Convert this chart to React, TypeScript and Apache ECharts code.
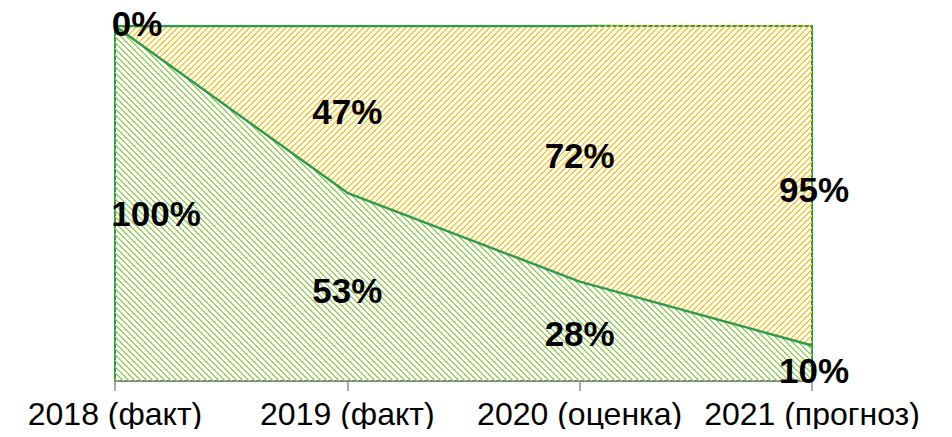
import React, { useEffect, useRef } from "react";
import * as echarts from "echarts";

const categories = ["2018 (факт)", "2019 (факт)", "2020 (оценка)", "2021 (прогноз)"];
const greenShare = [100, 53, 28, 10];
const orangeShare = [0, 47, 72, 95];

const greenLabelOffsets = [[41, 10], [0, 4], [0, 2], [2, 7]];
const orangeLabelOffsets = [[22, -3], [0, 2], [0, 2], [2, 13]];

function makePattern(color: string, light: string, dir: "up" | "down"): string {
  const c = document.createElement("canvas");
  const s = 6;
  c.width = s;
  c.height = s;
  const ctx = c.getContext("2d")!;
  for (let x = 0; x < s; x++) {
    for (let y = 0; y < s; y++) {
      const k = dir === "up" ? (x + y) % s : (((x - y) % s) + s) % s;
      if (k === 0) {
        ctx.fillStyle = color;
        ctx.fillRect(x, y, 1, 1);
      } else if (k === 1) {
        ctx.fillStyle = light;
        ctx.fillRect(x, y, 1, 1);
      }
    }
  }
  return c.toDataURL();
}

export default function App() {
  const ref = useRef<HTMLDivElement>(null);
  useEffect(() => {
    if (!ref.current) return;
    const chart = echarts.init(ref.current, undefined, { renderer: "svg" });
    const greenPat = makePattern("#86cc3c", "#b5e08a", "down");
    const orangePat = makePattern("#ffbf00", "#ffd866", "up");
    const lineGreen = "#2e9b4a";
    const labelStyle = {
      show: true,
      fontFamily: "Liberation Sans, Arial, sans-serif",
      fontWeight: "bold" as const,
      fontSize: 35,
      color: "#000",
      textBorderWidth: 0,
      textBorderColor: "transparent",
      opacity: 1,
      position: "inside" as const,
    };
    chart.setOption({
      animation: false,
      grid: {
        left: 115,
        right: 140,
        top: 26,
        bottom: 56,
        show: true,
        borderColor: lineGreen,
        borderWidth: 2,
        backgroundColor: "transparent",
      },
      xAxis: {
        type: "category",
        data: categories,
        boundaryGap: false,
        axisLine: { show: true, lineStyle: { color: "#8c8c8c", width: 1.5 } },
        axisTick: { show: true, length: 10, lineStyle: { color: "#8c8c8c", width: 1.5 } },
        axisLabel: {
          color: "#000",
          fontSize: 32,
          lineHeight: 32,
          fontFamily: "Liberation Sans, Arial, sans-serif",
          margin: 17,
          interval: 0,
        },
        splitLine: { show: false },
      },
      yAxis: {
        type: "value",
        min: 0,
        max: 100,
        show: false,
        splitLine: { show: false },
      },
      series: [
        {
          type: "line",
          stack: "share",
          data: greenShare,
          symbol: "none",
          lineStyle: { color: lineGreen, width: 2.5 },
          areaStyle: { color: { image: greenPat, repeat: "repeat" }, opacity: 1 },
          z: 2,
        },
        {
          type: "line",
          stack: "share",
          data: orangeShare,
          symbol: "none",
          lineStyle: { color: lineGreen, width: 2.5 },
          areaStyle: { color: { image: orangePat, repeat: "repeat" }, opacity: 1 },
          z: 2,
        },
        {
          type: "scatter",
          symbolSize: 0,
          clip: false,
          z: 5,
          itemStyle: { color: "#000", opacity: 1 },
          data: greenShare.map((g, i) => ({
            value: [i, g / 2],
            label: { ...labelStyle, offset: greenLabelOffsets[i], formatter: g + "%" },
          })),
        },
        {
          type: "scatter",
          symbolSize: 0,
          clip: false,
          z: 5,
          itemStyle: { color: "#000", opacity: 1 },
          data: orangeShare.map((o, i) => ({
            value: [i, greenShare[i] + o / 2],
            label: { ...labelStyle, offset: orangeLabelOffsets[i], formatter: o + "%" },
          })),
        },
      ],
    });
    return () => chart.dispose();
  }, []);
  return <div ref={ref} style={{ width: 952, height: 437, margin: -8 }} />;
}
